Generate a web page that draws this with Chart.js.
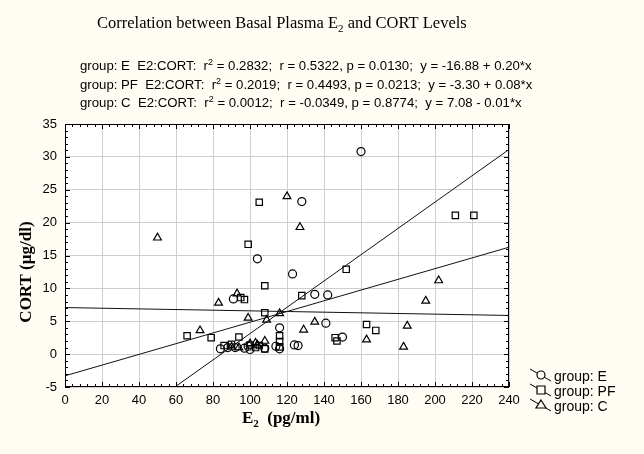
<!DOCTYPE html>
<html><head><meta charset="utf-8">
<script src="https://cdn.jsdelivr.net/npm/chart.js@4.4.1/dist/chart.umd.min.js"></script>
<style>html,body{margin:0;padding:0;background:#fffdf3;}#wrap{width:644px;height:454px;}</style>
</head><body><div id="wrap"><canvas id="c" width="644" height="454"></canvas></div>
<script>
const groups = ["E", "PF", "C"];
const statR2 = ["0.2832", "0.2019", "0.0012"];
const statR = ["0.5322", "0.4493", "-0.0349"];
const statP = ["0.0130", "0.0213", "0.8774"];
const statEq = ["-16.88 + 0.20*x", "-3.30 + 0.08*x", "7.08 - 0.01*x"];
const lineIntercept = [-16.88, -3.30, 7.08];
const lineSlope = [0.200, 0.0815, -0.005];
const xTicks = [0, 240, 20];
const yTicks = [-5, 35, 5];

const eX = [160,128,104,123,135,142,91,116,141,150,124,126,97,99,116,84,108,88,100,92,114];
const eY = [30.8,23.2,14.5,12.2,9.1,9.0,8.4,4.0,4.7,2.6,1.4,1.3,0.9,1.2,0.8,0.8,0.9,1.0,0.7,1.0,1.2];
const pfX = [211,221,105,99,108,152,128,95,97,108,163,168,146,147,66,79,94,86,100,105,108,116,116,116,103,90];
const pfY = [21.1,21.1,23.1,16.7,10.4,12.9,8.9,8.6,8.3,6.3,4.5,3.6,2.5,2.0,2.8,2.5,2.6,1.3,1.4,1.3,0.8,2.8,1.9,1.1,1.0,1.5];
const cX = [50,120,127,83,93,202,195,99,73,116,109,135,129,163,185,183,103,108,94,90,104,100];
const cY = [17.7,24.0,19.3,7.8,9.2,11.2,8.1,5.5,3.6,6.2,5.2,4.9,3.7,2.2,4.3,1.1,1.7,2.0,1.0,1.1,1.4,1.6];

const pts = (xs, ys) => xs.map((x, i) => ({x: x, y: ys[i]}));
const styles = ["circle", "rect", "triangle"];
const radii = [4, 4.5, 4.5];
const series = [pts(eX, eY), pts(pfX, pfY), pts(cX, cY)];

function regLine(g) {
  const lo = xTicks[0], hi = xTicks[1];
  let x0 = lo, x1 = hi;
  const yAt = x => lineIntercept[g] + lineSlope[g] * x;
  if (yAt(x0) < yTicks[0]) x0 = (yTicks[0] - lineIntercept[g]) / lineSlope[g];
  if (yAt(x1) > yTicks[1]) x1 = (yTicks[1] - lineIntercept[g]) / lineSlope[g];
  return [{x: x0, y: yAt(x0)}, {x: x1, y: yAt(x1)}];
}

const datasets = [];
groups.forEach((g, i) => {
  datasets.push({type: 'line', data: regLine(i), borderColor: '#111', borderWidth: 1, pointRadius: 0, fill: false, order: 2});
});
groups.forEach((g, i) => {
  datasets.push({type: 'scatter', label: 'group: ' + g, data: series[i], pointStyle: styles[i], pointRadius: radii[i],
    pointBorderColor: '#000', pointBackgroundColor: 'rgba(0,0,0,0)', pointBorderWidth: 1.2, order: 1});
});

function drawRuns(ctx, x, y, runs) {
  runs.forEach(r => {
    ctx.font = r[1];
    ctx.fillText(r[0], x, y + (r[2] || 0));
    x += ctx.measureText(r[0]).width;
  });
}

const deco = {
  id: 'deco',
  beforeDraw(chart) {
    const ctx = chart.ctx, a = chart.chartArea;
    ctx.save();
    ctx.fillStyle = '#fffdf3';
    ctx.fillRect(0, 0, chart.width, chart.height);
    ctx.fillStyle = '#ffffff';
    ctx.fillRect(a.left, a.top, a.right - a.left, a.bottom - a.top);
    ctx.restore();
  },
  afterDraw(chart) {
    const ctx = chart.ctx, a = chart.chartArea;
    const xs = chart.scales.x, ys = chart.scales.y;
    ctx.save();
    ctx.strokeStyle = '#000';
    ctx.lineWidth = 1;
    ctx.strokeRect(a.left + 0.5, a.top + 0.5, a.right - a.left - 1, a.bottom - a.top - 1);
    ctx.beginPath();
    for (let v = xTicks[0]; v <= xTicks[1]; v += 4) {
      const px = Math.round(xs.getPixelForValue(v)) + 0.5;
      const L = (v % xTicks[2] === 0) ? 5 : 3;
      ctx.moveTo(px, a.bottom); ctx.lineTo(px, a.bottom - L);
      ctx.moveTo(px, a.top); ctx.lineTo(px, a.top + L);
    }
    for (let v = yTicks[0]; v <= yTicks[1]; v += 1) {
      const py = Math.round(ys.getPixelForValue(v)) + 0.5;
      const L = (v % yTicks[2] === 0) ? 5 : 3;
      ctx.moveTo(a.left, py); ctx.lineTo(a.left + L, py);
      ctx.moveTo(a.right, py); ctx.lineTo(a.right - L, py);
    }
    ctx.stroke();

    ctx.fillStyle = '#000';
    ctx.textBaseline = 'alphabetic';
    ctx.textAlign = 'left';
    const serif = '"Liberation Serif", "Times New Roman", serif';
    drawRuns(ctx, 97, 28, [["Correlation between Basal Plasma E", "16.5px " + serif], ["2", "11px " + serif, 4], [" and CORT Levels", "16.5px " + serif]]);
    const sans = '"Liberation Sans", Arial, sans-serif';
    const f = "13.2px " + sans, fs = "9px " + sans;
    groups.forEach((g, i) => {
      const y = 70 + i * 18.5;
      drawRuns(ctx, 80, y, [["group: " + g + "  E2:CORT:  r", f], ["2", fs, -5], [" = " + statR2[i] + ";  r = " + statR[i] + ", p = " + statP[i] + ";  y = " + statEq[i], f]]);
    });
    ctx.font = "bold 17px " + serif;
    const w1 = ctx.measureText("E").width;
    ctx.font = "bold 11px " + serif;
    const w2 = ctx.measureText("2").width;
    ctx.font = "bold 17px " + serif;
    const w3 = ctx.measureText("  (pg/ml)").width;
    drawRuns(ctx, 281 - (w1 + w2 + w3) / 2, 423, [["E", "bold 17px " + serif], ["2", "bold 11px " + serif, 4], ["  (pg/ml)", "bold 17px " + serif]]);
    ctx.save();
    ctx.translate(31, 272);
    ctx.rotate(-Math.PI / 2);
    ctx.textAlign = 'center';
    ctx.font = "bold 17px " + serif;
    ctx.fillText("CORT (µg/dl)", 0, 0);
    ctx.restore();
    ctx.font = "14px " + sans;
    ctx.strokeStyle = '#000';
    groups.forEach((g, i) => {
      const cy = 376 + i * 15;
      ctx.beginPath();
      ctx.lineWidth = 1;
      ctx.moveTo(530, cy - 7); ctx.lineTo(551, cy + 5);
      ctx.stroke();
      ctx.lineWidth = 1.2;
      ctx.beginPath();
      const mx = 541, my = cy;
      if (i === 0) { ctx.arc(mx, my - 1, 4, 0, Math.PI * 2); }
      else if (i === 1) { ctx.rect(mx - 4, my - 5, 8, 8); }
      else { ctx.moveTo(mx, my - 6); ctx.lineTo(mx + 5, my + 2); ctx.lineTo(mx - 5, my + 2); ctx.closePath(); }
      ctx.fillStyle = '#fffdf3';
      ctx.fill();
      ctx.stroke();
      ctx.fillStyle = '#000';
      ctx.fillText("group: " + g, 554, cy + 5);
    });
    ctx.restore();
  }
};

new Chart(document.getElementById('c'), {
  data: {datasets: datasets},
  options: {
    responsive: false, animation: false,
    layout: {padding: {left: 0, top: 124, right: 135, bottom: 0}},
    plugins: {legend: {display: false}, tooltip: {enabled: false}, title: {display: false}},
    scales: {
      x: {type: 'linear', min: xTicks[0], max: xTicks[1],
        ticks: {stepSize: xTicks[2], color: '#000', font: {family: '"Liberation Sans", Arial, sans-serif', size: 13}, padding: 6, maxRotation: 0},
        grid: {color: '#cfcfcf', drawTicks: false}, border: {display: false},
        afterFit(s) { s.height = 67; }},
      y: {type: 'linear', min: yTicks[0], max: yTicks[1],
        ticks: {stepSize: yTicks[2], color: '#000', font: {family: '"Liberation Sans", Arial, sans-serif', size: 13}, padding: 8},
        grid: {color: '#cfcfcf', drawTicks: false}, border: {display: false},
        afterFit(s) { s.width = 65; }}
    }
  },
  plugins: [deco]
});
</script></body></html>
